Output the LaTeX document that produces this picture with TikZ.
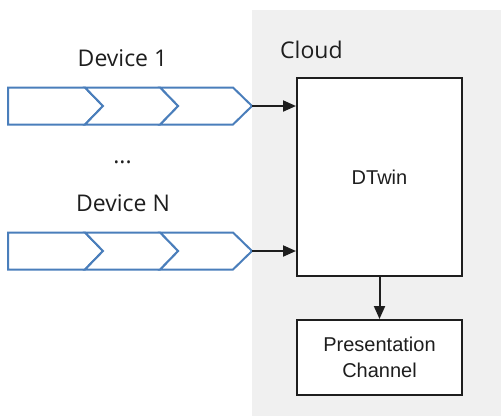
\documentclass[tikz,border=0pt]{standalone}
\usepackage{fontspec}
\setmainfont{Liberation Sans}
\newfontfamily\segoe{Open Sans}
\usetikzlibrary{arrows.meta,positioning}
\definecolor{chevblue}{RGB}{74,126,187}
\definecolor{cloudgray}{RGB}{240,240,240}
\definecolor{boxline}{RGB}{30,30,30}
\tikzset{
  chev/.style={draw=chevblue, line width=2bp, fill=white, line join=miter},
  box/.style={draw=boxline, line width=2bp, fill=white, inner sep=0pt, align=center,
    font=\fontsize{20bp}{26bp}\selectfont, text=boxline},
  conn/.style={draw=boxline, line width=2bp, -{Triangle[length=13bp,width=11bp]}},
  lbl/.style={font=\segoe\fontsize{23bp}{28bp}\selectfont, text=boxline, inner sep=0pt}
}
\begin{document}
\begin{tikzpicture}[x=1bp,y=-1bp]
\useasboundingbox (0,0) rectangle (501,416);
\fill[cloudgray] (252,10) rectangle (501,416);
\node[lbl, anchor=base west] (cloud) at (280,58) {Cloud};
\node[lbl, anchor=base] (dev1) at (122.5,66) {Device 1};
\foreach \y/\n in {106/a,251/b}{
  \path[chev] (8,\y-18.5) -- (85,\y-18.5) -- (103,\y) -- (85,\y+18.5) -- (8,\y+18.5) -- cycle;
  \path[chev] (160,\y-18.5) -- (178,\y) -- (160,\y+18.5) -- (233,\y+18.5) -- (252,\y) -- (233,\y-18.5) -- cycle;
  \path[chev] (85,\y-18.5) -- (103,\y) -- (85,\y+18.5) -- (160,\y+18.5) -- (178,\y) -- (160,\y-18.5) -- cycle;
  \coordinate (tip\n) at (252,\y);
}
\node[lbl] (dots) at (122.5,162) {...};
\node[lbl, anchor=base] (devN) at (123,211) {Device N};
\node[box, minimum width=165bp, minimum height=198bp] (dtwin) at (379.5,177) {DTwin};
\node[box, minimum width=165bp, minimum height=75bp] (pres) at (379.5,357.5) {Presentation\\Channel};
\draw[conn] (tipa) -- (dtwin.west |- tipa);
\draw[conn] (tipb) -- (dtwin.west |- tipb);
\draw[conn] (dtwin.south) -- (pres.north);
\end{tikzpicture}
\end{document}
